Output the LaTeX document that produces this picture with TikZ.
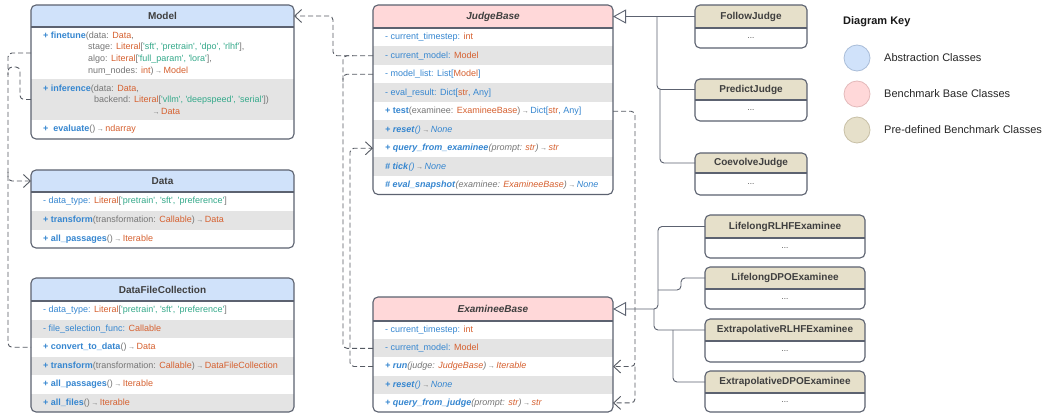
\documentclass[tikz,border=0pt]{standalone}
\usepackage{fontspec}
\setmainfont{Liberation Sans}[Ligatures=TeXOff]
\usetikzlibrary{arrows.meta}
\definecolor{hblue}{HTML}{D0E2FA}
\definecolor{hpink}{HTML}{FFD8D9}
\definecolor{hbeige}{HTML}{E6E0CA}
\definecolor{rgray}{HTML}{E4E4E4}
\definecolor{frm}{HTML}{5C6270}
\definecolor{colB}{HTML}{3586D0}
\definecolor{colO}{HTML}{D6602F}
\definecolor{colT}{HTML}{34A98A}
\definecolor{colG}{HTML}{767676}
\definecolor{htxt}{HTML}{3F3F3F}
\definecolor{depc}{HTML}{555A63}
\definecolor{kblue}{HTML}{A9BDD8}
\definecolor{kpink}{HTML}{E3B9BA}
\definecolor{kbeige}{HTML}{C8C0A6}
\newcommand\cB[1]{\textcolor{colB}{#1}}
\newcommand\cO[1]{\textcolor{colO}{#1}}
\newcommand\cT[1]{\textcolor{colT}{#1}}
\newcommand\cG[1]{\textcolor{colG}{#1}}
\newcommand\rarr{\textcolor{colG}{\,{\fontsize{7}{6}\selectfont →}\,}}
\tikzset{
  hdr/.style={anchor=north west,inner sep=0pt,outer sep=0pt,minimum width=#1,font=\fontsize{10}{12}\selectfont\bfseries,text=htxt},
  rowbox/.style={anchor=north west,inner sep=0pt,outer sep=0pt,minimum width=#1},
  rtext/.style={anchor=west,inner sep=0pt,align=left,font=\fontsize{9}{11.5}\selectfont},
  dots/.style={anchor=north west,inner sep=0pt,outer sep=0pt,minimum width=#1,font=\fontsize{8}{9}\selectfont,text=htxt},
  frame/.style={draw=frm,line width=1.1pt,rounded corners=5pt},
  sep/.style={draw=frm,line width=1.1pt},
  dep/.style={draw=depc,line width=0.9pt,dash pattern=on 5pt off 3pt,rounded corners=4pt},
  deparr/.style={dep,-{Straight Barb[length=7pt,width=13pt,line width=0.9pt]}},
  gen/.style={draw=frm,line width=0.9pt,rounded corners=4pt},
  genarr/.style={gen,-{Triangle[open,length=13pt,width=14pt,line width=0.9pt]}},
  keyc/.style={circle,minimum size=26pt,inner sep=0pt,line width=0.8pt},
  keyt/.style={anchor=west,inner sep=0pt,font=\fontsize{11}{13}\selectfont,text=black!85},
}
\begin{document}
\begin{tikzpicture}[x=1pt,y=-1pt]
\useasboundingbox (0,0) rectangle (1048,414);
\fill[white] (0,0) rectangle (1048,414);

% ---------------- Model ----------------
\begin{scope}
\clip[rounded corners=5pt] (31,5) rectangle (294,139);
\node[hdr=263pt,minimum height=22pt,fill=hblue] (m) at (31,5) {Model};
\node[rowbox=263pt,minimum height=52pt,fill=white] (m-ft) at (31,27) {};
\node[rowbox=263pt,minimum height=41pt,fill=rgray] (m-inf) at (31,79) {};
\node[rowbox=263pt,minimum height=19pt,fill=white] (m-ev) at (31,120) {};
\end{scope}
\draw[frame] (31,5) rectangle (294,139);
\draw[sep] (m.south west) -- (m.south east);
\node[rtext,font=\fontsize{9}{11.8}\selectfont] (m-ft-t) at ([xshift=12pt,yshift=-0.5pt]m-ft.west) {\cB{\textbf{+ finetune}}\cG{(data: }\cO{Data}\cG{,}\\
\hspace*{45pt}\cG{stage: }\cO{Literal}\cG{[}\cT{'sft', 'pretrain', 'dpo', 'rlhf'}\cG{],}\\
\hspace*{45pt}\cG{algo: }\cO{Literal}\cG{[}\cT{'full\_param', 'lora'}\cG{],}\\
\hspace*{45pt}\cG{num\_nodes: }\cO{int}\cG{)}\rarr\cO{Model}};
\node[rtext] (m-inf-t) at ([xshift=12pt]m-inf.west) {\cB{\textbf{+ inference}}\cG{(data: }\cO{Data}\cG{,}\\
\hspace*{51pt}\cG{backend: }\cO{Literal}\cG{[}\cT{'vllm', 'deepspeed', 'serial'}\cG{])}\\
\hspace*{108pt}\rarr\cO{Data}};
\node[rtext] (m-ev-t) at ([xshift=12pt]m-ev.west) {\cB{\textbf{+\ \ evaluate}}\cG{()}\rarr\cO{ndarray}};

% ---------------- Data ----------------
\begin{scope}
\clip[rounded corners=5pt] (31,170) rectangle (294,248);
\node[hdr=263pt,minimum height=22pt,fill=hblue] (d) at (31,170) {Data};
\node[rowbox=263pt,minimum height=19pt,fill=white] (d-dt) at (31,192) {};
\node[rowbox=263pt,minimum height=19pt,fill=rgray] (d-tr) at (31,211) {};
\node[rowbox=263pt,minimum height=18pt,fill=white] (d-ap) at (31,230) {};
\end{scope}
\draw[frame] (31,170) rectangle (294,248);
\draw[sep] (d.south west) -- (d.south east);
\node[rtext] (d-dt-t) at ([xshift=12pt]d-dt.west) {\cB{- data\_type: }\cO{Literal}\cG{[}\cT{'pretrain', 'sft', 'preference'}\cG{]}};
\node[rtext] (d-tr-t) at ([xshift=12pt]d-tr.west) {\cB{\textbf{+ transform}}\cG{(transformation: }\cO{Callable}\cG{)}\rarr\cO{Data}};
\node[rtext] (d-ap-t) at ([xshift=12pt]d-ap.west) {\cB{\textbf{+ all\_passages}}\cG{()}\rarr\cO{Iterable}};

% ---------------- DataFileCollection ----------------
\begin{scope}
\clip[rounded corners=5pt] (31,278) rectangle (294,412);
\node[hdr=263pt,minimum height=23pt,fill=hblue] (f) at (31,278) {DataFileCollection};
\node[rowbox=263pt,minimum height=18.5pt,fill=white] (f-dt) at (31,301) {};
\node[rowbox=263pt,minimum height=18.5pt,fill=rgray] (f-fs) at (31,319.5) {};
\node[rowbox=263pt,minimum height=18.5pt,fill=white] (f-cv) at (31,338) {};
\node[rowbox=263pt,minimum height=18.5pt,fill=rgray] (f-tr) at (31,356.5) {};
\node[rowbox=263pt,minimum height=18.5pt,fill=white] (f-ap) at (31,375) {};
\node[rowbox=263pt,minimum height=18.5pt,fill=rgray] (f-af) at (31,393.5) {};
\end{scope}
\draw[frame] (31,278) rectangle (294,412);
\draw[sep] (f.south west) -- (f.south east);
\node[rtext] (f-dt-t) at ([xshift=12pt]f-dt.west) {\cB{- data\_type: }\cO{Literal}\cG{[}\cT{'pretrain', 'sft', 'preference'}\cG{]}};
\node[rtext] (f-fs-t) at ([xshift=12pt]f-fs.west) {\cB{- file\_selection\_func: }\cO{Callable}};
\node[rtext] (f-cv-t) at ([xshift=12pt]f-cv.west) {\cB{\textbf{+ convert\_to\_data}}\cG{()}\rarr\cO{Data}};
\node[rtext] (f-tr-t) at ([xshift=12pt]f-tr.west) {\cB{\textbf{+ transform}}\cG{(transformation: }\cO{Callable}\cG{)}\rarr\cO{DataFileCollection}};
\node[rtext] (f-ap-t) at ([xshift=12pt]f-ap.west) {\cB{\textbf{+ all\_passages}}\cG{()}\rarr\cO{Iterable}};
\node[rtext] (f-af-t) at ([xshift=12pt]f-af.west) {\cB{\textbf{+ all\_files}}\cG{()}\rarr\cO{Iterable}};

% ---------------- JudgeBase ----------------
\begin{scope}
\clip[rounded corners=5pt] (373,5) rectangle (613,194.5);
\node[hdr=240pt,minimum height=23pt,fill=hpink,font=\fontsize{10}{12}\selectfont\bfseries\itshape] (j) at (373,5) {JudgeBase};
\node[rowbox=240pt,minimum height=18.5pt,fill=white] (j-ts) at (373,28) {};
\node[rowbox=240pt,minimum height=18.5pt,fill=rgray] (j-cm) at (373,46.5) {};
\node[rowbox=240pt,minimum height=18.5pt,fill=white] (j-ml) at (373,65) {};
\node[rowbox=240pt,minimum height=18.5pt,fill=rgray] (j-er) at (373,83.5) {};
\node[rowbox=240pt,minimum height=18.5pt,fill=white] (j-te) at (373,102) {};
\node[rowbox=240pt,minimum height=18.5pt,fill=rgray] (j-re) at (373,120.5) {};
\node[rowbox=240pt,minimum height=18.5pt,fill=white] (j-qe) at (373,139) {};
\node[rowbox=240pt,minimum height=18.5pt,fill=rgray] (j-ti) at (373,157.5) {};
\node[rowbox=240pt,minimum height=18.5pt,fill=white] (j-es) at (373,176) {};
\end{scope}
\draw[frame] (373,5) rectangle (613,194.5);
\draw[sep] (j.south west) -- (j.south east);
\node[rtext] (j-ts-t) at ([xshift=12pt]j-ts.west) {\cB{- current\_timestep: }\cO{int}};
\node[rtext] (j-cm-t) at ([xshift=12pt]j-cm.west) {\cB{- current\_model: }\cO{Model}};
\node[rtext] (j-ml-t) at ([xshift=12pt]j-ml.west) {\cB{- model\_list: List[}\cO{Model}\cB{]}};
\node[rtext] (j-er-t) at ([xshift=12pt]j-er.west) {\cB{- eval\_result: Dict[}\cO{str}\cB{, Any]}};
\node[rtext] (j-te-t) at ([xshift=12pt]j-te.west) {\cB{\textbf{+ test}}\cG{(examinee: }\cO{ExamineeBase}\cG{)}\rarr\cB{Dict[}\cO{str}\cB{, Any]}};
\node[rtext] (j-re-t) at ([xshift=12pt]j-re.west) {\cB{\textbf{\textit{+ reset}}\textit{()}}\rarr\cB{\textit{None}}};
\node[rtext] (j-qe-t) at ([xshift=12pt]j-qe.west) {\cB{\textbf{\textit{+ query\_from\_examinee}}}\cG{\textit{(prompt: }}\cO{\textit{str}}\cG{\textit{)}}\rarr\cO{\textit{str}}};
\node[rtext] (j-ti-t) at ([xshift=12pt]j-ti.west) {\cB{\textbf{\textit{\# tick}}\textit{()}}\rarr\cB{\textit{None}}};
\node[rtext] (j-es-t) at ([xshift=12pt]j-es.west) {\cB{\textbf{\textit{\# eval\_snapshot}}}\cG{\textit{(examinee: }}\cO{\textit{ExamineeBase}}\cG{\textit{)}}\rarr\cB{\textit{None}}};

% ---------------- ExamineeBase ----------------
\begin{scope}
\clip[rounded corners=5pt] (373,297) rectangle (613,412);
\node[hdr=240pt,minimum height=24pt,fill=hpink,font=\fontsize{10}{12}\selectfont\bfseries\itshape] (e) at (373,297) {ExamineeBase};
\node[rowbox=240pt,minimum height=18.2pt,fill=white] (e-ts) at (373,321) {};
\node[rowbox=240pt,minimum height=18.2pt,fill=rgray] (e-cm) at (373,339.2) {};
\node[rowbox=240pt,minimum height=18.2pt,fill=white] (e-run) at (373,357.4) {};
\node[rowbox=240pt,minimum height=18.2pt,fill=rgray] (e-re) at (373,375.6) {};
\node[rowbox=240pt,minimum height=18.2pt,fill=white] (e-qj) at (373,393.8) {};
\end{scope}
\draw[frame] (373,297) rectangle (613,412);
\draw[sep] (e.south west) -- (e.south east);
\node[rtext] (e-ts-t) at ([xshift=12pt]e-ts.west) {\cB{- current\_timestep: }\cO{int}};
\node[rtext] (e-cm-t) at ([xshift=12pt]e-cm.west) {\cB{- current\_model: }\cO{Model}};
\node[rtext] (e-run-t) at ([xshift=12pt]e-run.west) {\cB{\textbf{\textit{+ run}}}\cG{\textit{(judge: }}\cO{\textit{JudgeBase}}\cG{\textit{)}}\rarr\cO{\textit{Iterable}}};
\node[rtext] (e-re-t) at ([xshift=12pt]e-re.west) {\cB{\textbf{\textit{+ reset}}\textit{()}}\rarr\cB{\textit{None}}};
\node[rtext] (e-qj-t) at ([xshift=12pt]e-qj.west) {\cB{\textbf{\textit{+ query\_from\_judge}}}\cG{\textit{(prompt: }}\cO{\textit{str}}\cG{\textit{)}}\rarr\cO{\textit{str}}};

% ---------------- Judges ----------------
\begin{scope}
\clip[rounded corners=5pt] (695,5) rectangle (807,48);
\node[hdr=112pt,minimum height=23pt,fill=hbeige] (fj) at (695,5) {FollowJudge};
\node[dots=112pt,minimum height=20pt,fill=white] (fj-b) at (695,28) {...};
\end{scope}
\draw[frame] (695,5) rectangle (807,48);
\draw[sep] (fj.south west) -- (fj.south east);

\begin{scope}
\clip[rounded corners=5pt] (695,79) rectangle (807,121);
\node[hdr=112pt,minimum height=21pt,fill=hbeige] (pj) at (695,79) {PredictJudge};
\node[dots=112pt,minimum height=21pt,fill=white] (pj-b) at (695,100) {...};
\end{scope}
\draw[frame] (695,79) rectangle (807,121);
\draw[sep] (pj.south west) -- (pj.south east);

\begin{scope}
\clip[rounded corners=5pt] (695,153) rectangle (807,195);
\node[hdr=112pt,minimum height=20pt,fill=hbeige] (cj) at (695,153) {CoevolveJudge};
\node[dots=112pt,minimum height=22pt,fill=white] (cj-b) at (695,173) {...};
\end{scope}
\draw[frame] (695,153) rectangle (807,195);
\draw[sep] (cj.south west) -- (cj.south east);

% ---------------- Examinees ----------------
\begin{scope}
\clip[rounded corners=5pt] (705,215) rectangle (865,258);
\node[hdr=160pt,minimum height=23pt,fill=hbeige] (lr) at (705,215) {LifelongRLHFExaminee};
\node[dots=160pt,minimum height=20pt,fill=white] (lr-b) at (705,238) {...};
\end{scope}
\draw[frame] (705,215) rectangle (865,258);
\draw[sep] (lr.south west) -- (lr.south east);

\begin{scope}
\clip[rounded corners=5pt] (705,267) rectangle (865,309);
\node[hdr=160pt,minimum height=22pt,fill=hbeige] (ld) at (705,267) {LifelongDPOExaminee};
\node[dots=160pt,minimum height=20pt,fill=white] (ld-b) at (705,289) {...};
\end{scope}
\draw[frame] (705,267) rectangle (865,309);
\draw[sep] (ld.south west) -- (ld.south east);

\begin{scope}
\clip[rounded corners=5pt] (705,319) rectangle (865,362);
\node[hdr=160pt,minimum height=22pt,fill=hbeige] (er) at (705,319) {ExtrapolativeRLHFExaminee};
\node[dots=160pt,minimum height=21pt,fill=white] (er-b) at (705,341) {...};
\end{scope}
\draw[frame] (705,319) rectangle (865,362);
\draw[sep] (er.south west) -- (er.south east);

\begin{scope}
\clip[rounded corners=5pt] (705,371) rectangle (865,412);
\node[hdr=160pt,minimum height=22pt,fill=hbeige] (ed) at (705,371) {ExtrapolativeDPOExaminee};
\node[dots=160pt,minimum height=19pt,fill=white] (ed-b) at (705,393) {...};
\end{scope}
\draw[frame] (705,371) rectangle (865,412);
\draw[sep] (ed.south west) -- (ed.south east);

% ---------------- Inheritance ----------------
\draw[genarr] (fj.west) -- (j.east);
\draw[gen] (pj.west) -| ([xshift=-38pt]fj.west);
\draw[gen] (cj.west) -| ([xshift=-35pt]pj.west);
\draw[genarr] (lr.west) -- ++(-47,0) |- (e.east);
\draw[gen] (ld.west) -- ++(-24,0) -- ++(0,12) -- ++(-23,0);
\draw[gen] (er.west) -| ([xshift=41pt]e.east);
\draw[gen] (ed.west) -| ([xshift=-32pt]er.west);

% ---------------- Dependencies ----------------
\draw[deparr] (j-cm.west) -- ++(-40,0) |- (m.east);
\draw[dep] (e-cm.west) -- ++(-30,0) |- ([xshift=-20pt]j-cm.west);
\draw[dep] (j-ml.west) -- ++(-30,0) -- ++(0,8);
\draw[deparr] (e-run.west) -- ++(-23,0) |- (j-qe.west);
\draw[deparr] (j-te.east) -- ++(22,0) |- (e-run.east);
\draw[deparr] ([xshift=22pt]e-run.east) |- (e-qj.east);
\draw[dep] (m-ft.west) -- ++(-23,0) |- (f-cv.west);
\draw[dep] (m-inf.west) -- ++(-11,0) -- ++(0,-32.5) -- ++(-12,0) -- ++(0,8);
\draw[deparr] ([xshift=-23pt,yshift=9pt]d.west) |- (d.west);

% ---------------- Key ----------------
\node[anchor=west,inner sep=0pt,font=\fontsize{11}{13}\selectfont\bfseries,text=black!90] (kt) at (843,22) {Diagram Key};
\node[keyc,fill=hblue,draw=kblue] (k1) at (857,58) {};
\node[keyc,fill=hpink,draw=kpink] (k2) at (857,94) {};
\node[keyc,fill=hbeige,draw=kbeige] (k3) at (857,130) {};
\node[keyt] (k1t) at (884,58) {Abstraction Classes};
\node[keyt] (k2t) at (884,94) {Benchmark Base Classes};
\node[keyt] (k3t) at (884,130) {Pre-defined Benchmark Classes};
\end{tikzpicture}
\end{document}
